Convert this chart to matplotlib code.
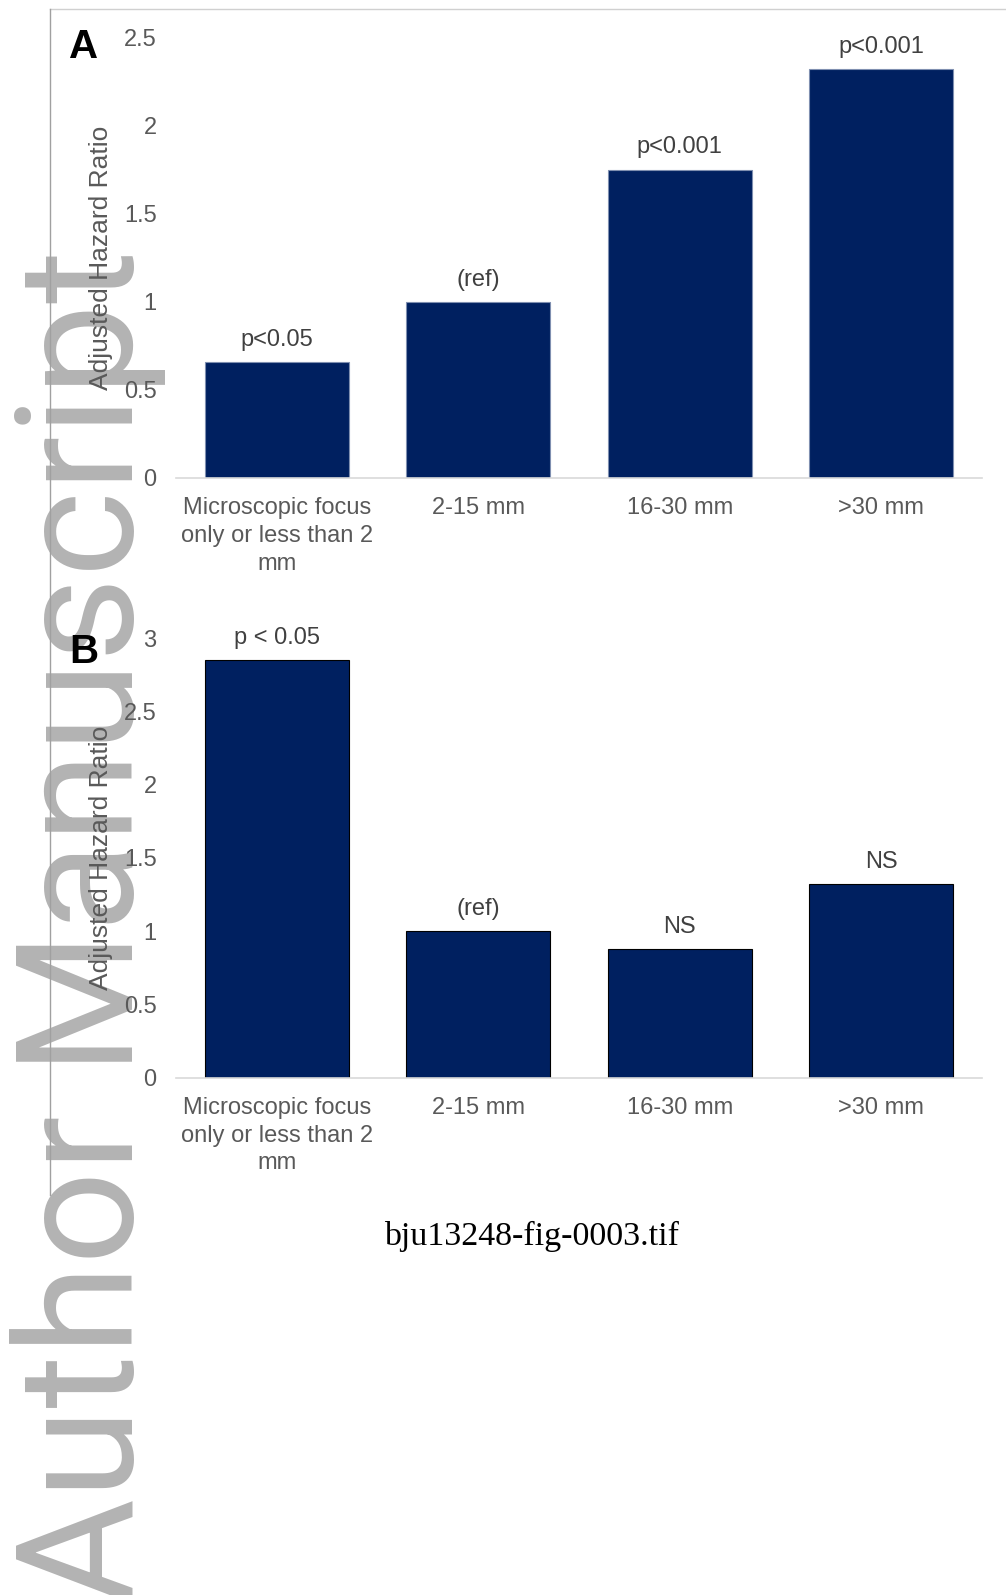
import matplotlib
matplotlib.use("Agg")
import matplotlib.pyplot as plt
from matplotlib.lines import Line2D

# Данные
categories = ["Microscopic focus\nonly or less than 2\nmm", "2-15 mm", "16-30 mm", ">30 mm"]

hr_a = [0.66, 1.0, 1.75, 2.32]
notes_a = ["p<0.05", "(ref)", "p<0.001", "p<0.001"]
yticks_a = [0, 0.5, 1, 1.5, 2, 2.5]
ytick_labels_a = ["0", "0.5", "1", "1.5", "2", "2.5"]

hr_b = [2.85, 1.0, 0.88, 1.32]
notes_b = ["p < 0.05", "(ref)", "NS", "NS"]
yticks_b = [0, 0.5, 1, 1.5, 2, 2.5, 3]
ytick_labels_b = ["0", "0.5", "1", "1.5", "2", "2.5", "3"]

W, H = 1006, 1595
BAR_COLOR = "#002060"
TEXT_COLOR = "#595959"


def fx(px):
    return px / W


def fy(py):
    return 1 - py / H


fig = plt.figure(figsize=(W / 100, H / 100), dpi=100)
plt.rcParams['font.family'] = ['Liberation Sans', 'DejaVu Sans']

# Водяной знак (под всем остальным)
fig.text(fx(133), fy(1605), "Author Manuscript", rotation=90, rotation_mode='anchor',
         ha='left', va='baseline', fontsize=118, family='Roboto', color='#b3b3b3', zorder=-5)

# Рамка страницы
fig.add_artist(Line2D([fx(50), fx(1006)], [fy(9), fy(9)], color='#d0d0d0', lw=1, zorder=-4))
fig.add_artist(Line2D([fx(50), fx(50)], [fy(9), fy(1195)], color='#a0a0a0', lw=1, zorder=-4))


def panel(rect, values, notes, yticks, ylabels, ymax, edge, letter, letter_y):
    ax = fig.add_axes(rect)
    ax.set_facecolor('none')
    x = range(len(values))
    bars = ax.bar(x, values, width=0.714, color=BAR_COLOR, edgecolor=edge, linewidth=0.8)
    ax.set_xlim(-0.5, 3.5)
    ax.set_ylim(0, ymax)
    ax.set_yticks(yticks)
    ax.set_yticklabels(ylabels)
    ax.set_xticks(list(x))
    ax.set_xticklabels(categories, linespacing=1.33)
    ax.tick_params(axis='both', length=0, labelsize=17, labelcolor=TEXT_COLOR)
    ax.tick_params(axis='y', pad=14)
    ax.tick_params(axis='x', pad=14)
    for s in ['top', 'right', 'left']:
        ax.spines[s].set_visible(False)
    ax.spines['bottom'].set_color('#d9d9d9')
    ax.spines['bottom'].set_linewidth(1.2)
    for bar, note in zip(bars, notes):
        ax.annotate(note, (bar.get_x() + bar.get_width() / 2, bar.get_height()),
                    xytext=(0, 16), textcoords='offset points',
                    ha='center', va='center', fontsize=17, color='#404040')
    ax.text(-0.093, 0.5, "Adjusted Hazard Ratio", rotation=90, ha='center', va='center',
            transform=ax.transAxes, fontsize=19, color=TEXT_COLOR)
    fig.text(fx(84), fy(letter_y), letter, ha='center', va='center',
             fontsize=29, fontweight='bold', color='black')
    return ax


panel([fx(176), fy(478), fx(982) - fx(176), fy(37.6) - fy(478)],
      hr_a, notes_a, yticks_a, ytick_labels_a, 2.5, '#7f8fb0', "A", 46.5)
panel([fx(176), fy(1077.6), fx(982) - fx(176), fy(638.3) - fy(1077.6)],
      hr_b, notes_b, yticks_b, ytick_labels_b, 3, 'black', "B", 652)

fig.text(fx(531.5), fy(1236), "bju13248-fig-0003.tif", ha='center', va='center',
         fontsize=24.5, family='Liberation Serif', color='black')

plt.savefig("out.png", dpi=100)
